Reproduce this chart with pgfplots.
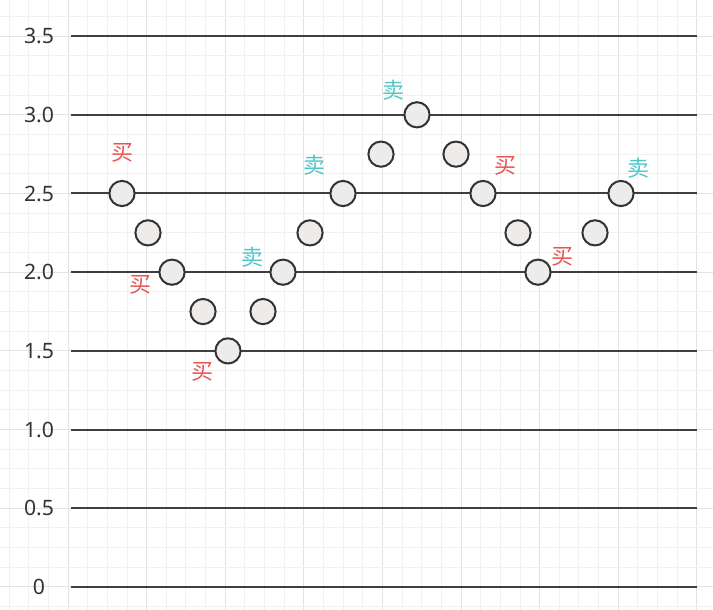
\documentclass[border=0pt]{standalone}
\usepackage{fontspec}
\setmainfont{Noto Sans}
\newfontfamily\cjk{Noto Sans CJK SC}
\usepackage{pgfplots}
\pgfplotsset{compat=1.18}

\definecolor{levelline}{HTML}{3F3F3F}
\definecolor{dotfill}{HTML}{EEEBEB}
\definecolor{dotedge}{HTML}{333333}
\definecolor{buyred}{HTML}{E85454}
\definecolor{sellteal}{HTML}{52C6C6}
\definecolor{gridminor}{HTML}{F1F1F1}
\definecolor{gridmajor}{HTML}{E2E2E2}
\definecolor{ticktext}{HTML}{333333}

\begin{document}
\begin{tikzpicture}
\begin{axis}[
  width=356.5pt, height=305pt, scale only axis,
  xmin=0, xmax=713, ymin=-0.1461, ymax=3.7294,
  axis line style={draw=none},
  xtick={68,146.6,...,700}, xticklabels={},
  minor xtick={9.1,28.75,...,713},
  ytick={0,0.5,...,3.5},
  yticklabels={0,0.5,1.0,1.5,2.0,2.5,3.0,3.5},
  minor ytick={-0.125,0,...,3.75},
  grid=both,
  major grid style={gridmajor, line width=0.5pt},
  minor grid style={gridminor, line width=0.5pt},
  major tick length=0pt, minor tick length=0pt,
  yticklabel style={anchor=center, xshift=19.5pt,
    font=\fontsize{10.6}{12}\selectfont, text=ticktext},
]
% price levels
\addplot[levelline, line width=1pt] coordinates {(71,0) (697,0)};
\addplot[levelline, line width=1pt] coordinates {(71,0.5) (697,0.5)};
\addplot[levelline, line width=1pt] coordinates {(71,1.0) (697,1.0)};
\addplot[levelline, line width=1pt] coordinates {(71,1.5) (697,1.5)};
\addplot[levelline, line width=1pt] coordinates {(71,2.0) (697,2.0)};
\addplot[levelline, line width=1pt] coordinates {(71,2.5) (697,2.5)};
\addplot[levelline, line width=1pt] coordinates {(71,3.0) (697,3.0)};
\addplot[levelline, line width=1pt] coordinates {(71,3.5) (697,3.5)};

% price path
\addplot[only marks, mark=*, mark size=6.3pt,
  mark options={fill=dotfill, draw=dotedge, line width=1pt}] table {
x y
122 2.5
148 2.25
172 2.0
203 1.75
228 1.5
263 1.75
283 2.0
310 2.25
343 2.5
381 2.75
417 3.0
456 2.75
483 2.5
518 2.25
538 2.0
595 2.25
621 2.5
};

% buy signals
\addplot[only marks, mark=none, nodes near coords, point meta=explicit symbolic,
  nodes near coords style={anchor=center, text=buyred,
    font=\cjk\fontsize{11}{13}\selectfont}] table[meta=t] {
x y t
123 2.757 买
140 1.919 买
202 1.366 买
505 2.675 买
562 2.097 买
};

% sell signals
\addplot[only marks, mark=none, nodes near coords, point meta=explicit symbolic,
  nodes near coords style={anchor=center, text=sellteal,
    font=\cjk\fontsize{11}{13}\selectfont}] table[meta=t] {
x y t
252 2.097 卖
314 2.681 卖
393 3.158 卖
638 2.662 卖
};

\coordinate (frameSW) at (rel axis cs:0,0);
\coordinate (frameNE) at (rel axis cs:1,1);
\end{axis}
\pgfresetboundingbox
\path[use as bounding box] (frameSW) rectangle (frameNE);
\end{tikzpicture}
\end{document}
